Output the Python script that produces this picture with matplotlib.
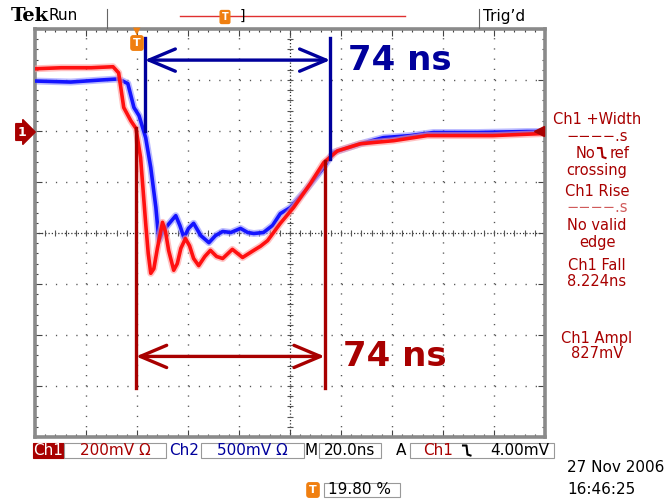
import numpy as np
import matplotlib
matplotlib.use("Agg")
import matplotlib.pyplot as plt

W, H = 666, 499

# traces, in screen divisions (x: 0..10, 20 ns/div ; y: -4..4 around centre)
ch1_x = [0.00, 0.51, 1.10, 1.53, 1.64, 1.74, 1.88, 1.98, 2.07, 2.17, 2.22, 2.27, 2.33,
         2.40, 2.50, 2.56, 2.62, 2.72, 2.79, 2.86, 2.95, 3.03, 3.11, 3.21, 3.33,
         3.44, 3.56, 3.68, 3.87, 4.07, 4.29, 4.42, 4.56, 4.81, 5.07, 5.40, 5.66,
         5.93, 6.38, 7.03, 7.69, 8.34, 8.98, 9.96]
ch1_y = [3.22, 3.24, 3.24, 3.26, 3.14, 2.46, 2.20, 2.05, 1.48, 0.19, -0.40, -0.79, -0.70,
         -0.30, 0.21, 0.02, -0.34, -0.73, -0.60, -0.30, -0.11, -0.25, -0.50, -0.64, -0.46,
         -0.34, -0.46, -0.50, -0.32, -0.48, -0.34, -0.26, -0.15, 0.19, 0.50, 0.97, 1.38,
         1.61, 1.75, 1.81, 1.91, 1.91, 1.91, 1.95]

ch2_x = [0.00, 0.70, 1.29, 1.62, 1.72, 1.82, 1.94, 2.04, 2.17, 2.27, 2.37, 2.43,
         2.50, 2.60, 2.76, 2.84, 2.92, 3.01, 3.11, 3.25, 3.41, 3.54, 3.68, 3.84,
         4.03, 4.17, 4.29, 4.48, 4.66, 4.81, 5.01, 5.30, 5.64, 5.85, 6.38, 6.83,
         7.36, 7.81, 8.67, 9.65, 9.96]
ch2_y = [2.98, 2.96, 3.00, 3.02, 2.98, 2.93, 2.46, 2.30, 1.87, 1.28, 0.50, -0.15,
         0.01, 0.15, 0.34, 0.15, -0.09, 0.09, 0.19, -0.05, -0.19, -0.05, 0.03, 0.01,
         0.09, 0.01, -0.01, 0.01, 0.15, 0.38, 0.50, 0.83, 1.26, 1.58, 1.75, 1.87,
         1.91, 1.97, 1.97, 1.99, 1.99]

# cursors: x position, top, bottom
blue_cur_x = [2.15, 5.79]
blue_cur_top = [3.83, 3.83]
blue_cur_bot = [2.00, 1.46]
blue_arrow_y = 3.39
red_cur_x = [1.98, 5.68]
red_cur_top = [2.05, 1.42]
red_cur_bot = [-3.04, -3.04]
red_arrow_y = -2.42
width_label = "74 ns"

meas_lines = ["Ch1 +Width", "\u2212\u2212\u2212\u2212.s", None, "crossing",
              "Ch1 Rise", "\u2212\u2212\u2212\u2212.s", "No valid", "edge",
              "Ch1 Fall", "8.224ns", "Ch1 Ampl", "827mV"]
meas_ypix = [120, 137, 153, 170, 192, 208, 226, 242, 265, 282, 338, 354]

DRED = "#a80000"
NAVY = "#00009c"
ORANGE = "#f07f10"


def fx(x):
    return x / W


def fy(y):
    return 1 - y / H


def edge_sym(xc, yc, color="black"):
    # falling-edge trigger symbol (no font has it)
    xs = [xc - 4, xc - 0.5, xc + 0.5, xc + 3.5]
    ys = [yc - 5, yc - 5, yc + 4, yc + 5]
    fig.add_artist(plt.Line2D([fx(v) for v in xs], [fy(v) for v in ys],
                              color=color, lw=1.5))


fig = plt.figure(figsize=(W / 100, H / 100), dpi=100)
fig.patch.set_facecolor("white")

ax = fig.add_axes([fx(35), fy(437), 510 / W, 408 / H])
ax.set_xlim(0, 10)
ax.set_ylim(-4, 4)
for s in ax.spines.values():
    s.set_color("#8a8a8a")
    s.set_linewidth(2.6)
ax.set_xticks(np.arange(0, 11, 1))
ax.set_yticks(np.arange(-4, 5, 1))
ax.set_xticks(np.arange(0, 10.01, 0.2), minor=True)
ax.set_yticks(np.arange(-4, 4.01, 0.2), minor=True)
ax.tick_params(which="both", direction="in", top=True, right=True,
               labelbottom=False, labelleft=False, color="#444444", width=0.8)
ax.tick_params(which="major", length=5)
ax.tick_params(which="minor", length=2.5)

# graticule dots
for gx in range(1, 10):
    if gx == 5:
        continue
    ax.axvline(gx, color="#555555", lw=1, ls=(0, (0.9, 6.45)), zorder=1)
for gy in range(-3, 4):
    if gy == 0:
        continue
    ax.axhline(gy, color="#555555", lw=1, ls=(0, (0.9, 6.45)), zorder=1)
ax.axhline(0, color="#333333", lw=0.9, ls=(0, (1, 1.6)), zorder=1)
ax.axvline(5, color="#333333", lw=0.9, ls=(0, (1, 1.6)), zorder=1)
tk = np.arange(0.2, 10, 0.2)
ax.plot(tk, np.zeros_like(tk), "|", ms=4, color="#555555", mew=0.8, zorder=1)
tk = np.arange(-3.8, 4, 0.2)
ax.plot(np.full_like(tk, 5), tk, "_", ms=4, color="#555555", mew=0.8, zorder=1)

# traces
ax.plot(ch2_x, ch2_y, color="#8f8fff", lw=5, alpha=0.6, solid_joinstyle="round",
        solid_capstyle="round", zorder=2)
ax.plot(ch2_x, ch2_y, color="#1414ff", lw=2.6, solid_joinstyle="round", zorder=3)
ax.plot(ch1_x, ch1_y, color="#ff9a9a", lw=5, alpha=0.6, solid_joinstyle="round",
        solid_capstyle="round", zorder=4)
ax.plot(ch1_x, ch1_y, color="#ff1010", lw=2.6, solid_joinstyle="round", zorder=5)

# cursors
for x, t, b in zip(blue_cur_x, blue_cur_top, blue_cur_bot):
    ax.plot([x, x], [t, b], color=NAVY, lw=2.4, zorder=6)
for x, t, b in zip(red_cur_x, red_cur_top, red_cur_bot):
    ax.plot([x, x], [t, b], color=DRED, lw=2.4, zorder=6)
ax.annotate("", xy=(blue_cur_x[0], blue_arrow_y), xytext=(blue_cur_x[1], blue_arrow_y),
            arrowprops=dict(arrowstyle="<->,head_length=0.95,head_width=0.4",
                            color=NAVY, lw=2.4, shrinkA=0, shrinkB=0, mutation_scale=20),
            zorder=6)
ax.annotate("", xy=(red_cur_x[0], red_arrow_y), xytext=(red_cur_x[1], red_arrow_y),
            arrowprops=dict(arrowstyle="<->,head_length=0.95,head_width=0.4",
                            color=DRED, lw=2.4, shrinkA=0, shrinkB=0, mutation_scale=20),
            zorder=6)
ax.plot([9.88], [2.0], marker="<", ms=7, color=DRED, zorder=7, clip_on=False)

fig.text(fx(348), fy(60), width_label, color=NAVY, fontsize=24.5,
         fontweight="bold", va="center", ha="left")
fig.text(fx(343), fy(357), width_label, color=DRED, fontsize=24.5,
         fontweight="bold", va="center", ha="left")

# measurement readouts
for i, (t, y) in enumerate(zip(meas_lines, meas_ypix)):
    if t is None:
        continue
    col = "#d05a5a" if i == 5 else DRED
    fig.text(fx(597), fy(y), t, color=col, fontsize=10.5, ha="center", va="center")
fig.text(fx(595), fy(153), "No", color=DRED, fontsize=10.5, ha="right", va="center")
edge_sym(602, 153, DRED)
fig.text(fx(610), fy(153), "ref", color=DRED, fontsize=10.5, ha="left", va="center")

# header
fig.text(fx(11), fy(16), "Tek", fontsize=14, fontweight="bold", va="center",
         ha="left", family="DejaVu Serif")
fig.text(fx(49), fy(16), "Run", fontsize=11, va="center", ha="left")
fig.text(fx(483), fy(16), "Trig\u2019d", fontsize=11, va="center", ha="left")
fig.add_artist(plt.Line2D([fx(107), fx(107)], [fy(9), fy(28)], color="#666666", lw=0.8))
fig.add_artist(plt.Line2D([fx(479), fx(479)], [fy(9), fy(28)], color="#666666", lw=0.8))
fig.add_artist(plt.Line2D([fx(180), fx(405)], [fy(16), fy(16)], color="#e03030", lw=1))
fig.text(fx(242), fy(16), "]", fontsize=10, va="center", ha="center")
fig.text(fx(225), fy(17), "T", fontsize=7, fontweight="bold", color="white",
         va="center", ha="center",
         bbox=dict(boxstyle="round,pad=0.15", fc=ORANGE, ec=ORANGE))
fig.text(fx(137), fy(43), "T", fontsize=8, fontweight="bold", color="white",
         va="center", ha="center",
         bbox=dict(boxstyle="round,pad=0.2", fc=ORANGE, ec=ORANGE))
fig.text(fx(137), fy(31), "\u25BC", fontsize=7, color=ORANGE, va="center", ha="center")
fig.text(fx(22), fy(132), "1", fontsize=9, fontweight="bold", color="white",
         va="center", ha="center",
         bbox=dict(boxstyle="rarrow,pad=0.15", fc=DRED, ec=DRED))


# bottom status bar
def box(x0, x1, y0=443, y1=458, fc="white", ec="#999999"):
    fig.add_artist(plt.Rectangle((fx(x0), fy(y1)), (x1 - x0) / W, (y1 - y0) / H,
                                 fc=fc, ec=ec, lw=0.8))


box(33, 64, fc=DRED, ec=DRED)
fig.text(fx(48.5), fy(450.5), "Ch1", color="white", fontsize=11, ha="center", va="center")
box(64, 166)
fig.text(fx(115), fy(450.5), "200mV \u03A9", color=DRED, fontsize=11, ha="center", va="center")
fig.text(fx(184), fy(450.5), "Ch2", color=NAVY, fontsize=11, ha="center", va="center")
box(201, 304)
fig.text(fx(252), fy(450.5), "500mV \u03A9", color=NAVY, fontsize=11, ha="center", va="center")
fig.text(fx(311), fy(450.5), "M", fontsize=11, ha="center", va="center")
box(319, 381)
fig.text(fx(350), fy(450.5), "20.0ns", fontsize=11, ha="center", va="center")
fig.text(fx(401), fy(450.5), "A", fontsize=11, ha="center", va="center")
box(410, 554)
fig.text(fx(423), fy(450.5), "Ch1", color=DRED, fontsize=11, ha="left", va="center")
edge_sym(467, 450.5)
fig.text(fx(549), fy(450.5), "4.00mV", fontsize=11, ha="right", va="center")

fig.text(fx(567), fy(468), "27 Nov 2006", fontsize=11, ha="left", va="center")
fig.text(fx(567), fy(489), "16:46:25", fontsize=11, ha="left", va="center")
fig.text(fx(313), fy(490), "T", fontsize=8, fontweight="bold", color="white",
         va="center", ha="center",
         bbox=dict(boxstyle="round,pad=0.2", fc=ORANGE, ec=ORANGE))
box(324, 400, 483, 497)
fig.text(fx(328), fy(490), "19.80 %", fontsize=11, ha="left", va="center")

fig.savefig("out.png", dpi=100)
